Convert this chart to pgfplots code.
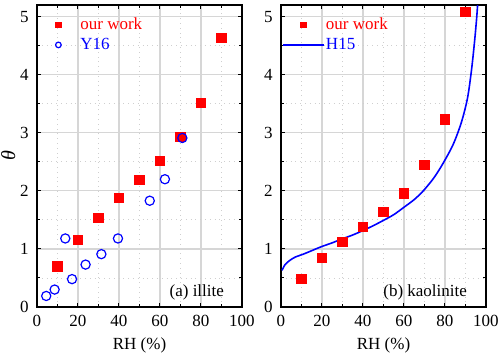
\documentclass[border=0pt]{standalone}
\usepackage{pgfplots}
\pgfplotsset{compat=1.18}
\usepackage{fontspec}
\setmainfont{Liberation Serif}
\definecolor{ourred}{RGB}{255,0,0}
\definecolor{refblue}{RGB}{0,0,255}

\pgfplotsset{
  legimg/.style={legend image code/.code={\path[draw=none, fill=none] (0pt,0pt) (20pt,0pt);
      \draw[mark repeat=2, mark phase=2, mark size=1.4pt, ##1]
      plot coordinates {(0pt,0pt) (10pt,0pt) (20pt,0pt)};}},
  panel/.style={
    scale only axis, width=102.5pt, height=151pt,
    xmin=0, xmax=100, ymin=0, ymax=5.2,
    xtick={0,20,...,100}, ytick={0,1,...,5},
    minor xtick={10,30,...,90}, minor ytick={0.5,1.5,...,4.5},
    tick align=inside, major tick length=2.2pt, minor tick length=1.4pt,
    xtick pos=both, ytick pos=both,
    xticklabel pos=lower, yticklabel pos=left,
    grid=both,
    major grid style={gray!32, line width=0.6pt},
    minor grid style={gray!38, dotted, line width=0.45pt},
    axis line style={line width=0.6pt},
    every tick/.style={black, line width=0.5pt},
    tick label style={font=\fontsize{8.5}{10}\selectfont},
    xticklabel style={yshift=-0.8pt},
    yticklabel style={xshift=-0.6pt},
    /pgf/number format/assume math mode=true,
    xlabel={RH (\%)},
    xlabel style={font=\fontsize{8.5}{10}\selectfont, at={(axis description cs:0.5,-0.126)}, anchor=center},
    legend style={draw=none, fill=none, at={(0,1)}, anchor=north west,
      xshift=0.5pt, yshift=-5pt, inner sep=0pt,
      nodes={inner sep=1pt}, row sep=0.8pt,
      font=\fontsize{8.5}{10}\selectfont},
    legend cell align=left,
  },
}

\begin{document}
\begin{tikzpicture}
\useasboundingbox (-18.5pt,-25.5pt) rectangle (231.5pt,153.5pt);
\begin{axis}[panel, at={(0,0)}, anchor=south west,
  ylabel={\itshape θ},
  ylabel style={font=\fontsize{10}{12}\selectfont, at={(axis description cs:-0.14,0.5)}, anchor=center}]
\addplot[only marks, mark=square*, mark size=2.3pt, color=ourred, legimg] coordinates {
  (10,0.70) (20,1.155) (30,1.53) (40,1.88) (50,2.19) (60,2.52) (70,2.93) (80,3.52) (90,4.64)};
\addplot[only marks, mark=o, mark size=2.3pt, color=refblue, mark options={line width=0.6pt}, legimg] coordinates {
  (4.5,0.19) (8.6,0.30) (13.8,1.18) (17.1,0.48) (23.7,0.73) (31.4,0.91) (39.5,1.18) (55.0,1.83) (62.4,2.20) (70.9,2.91)};
\legend{\textcolor{ourred}{our work}, \textcolor{refblue}{Y16}}
\node[anchor=base east, font=\fontsize{8.5}{10}\selectfont] at (rel axis cs:1,0) [xshift=-5.5pt, yshift=5pt] {(a) illite};
\end{axis}

\begin{axis}[panel, at={(122pt,0)}, anchor=south west]
\addplot[only marks, mark=square*, mark size=2.3pt, color=ourred, legimg] coordinates {
  (10,0.48) (20,0.84) (30,1.12) (40,1.38) (50,1.64) (60,1.955) (70,2.44) (80,3.23) (90,5.08)};
\addplot[color=refblue, line width=0.8pt, smooth, no marks, legimg] coordinates {
  (0.5,0.63) (2,0.73) (4.4,0.805) (7,0.86) (10.9,0.91) (15,0.97) (19.8,1.04) (25,1.105)
  (29.6,1.17) (35,1.24) (40.2,1.32) (45,1.40) (49.9,1.49) (55,1.59) (59.7,1.71) (65,1.85)
  (69.4,2.00) (74.5,2.22) (79,2.47) (84,2.80) (88,3.18) (91,3.60) (93,4.10) (94.5,4.60)
  (95.5,5.00) (96.1,5.30)};
\legend{\textcolor{ourred}{our work}, \textcolor{refblue}{H15}}
\node[anchor=base east, font=\fontsize{8.5}{10}\selectfont] at (rel axis cs:1,0) [xshift=-6pt, yshift=5pt] {(b) kaolinite};
\end{axis}
\end{tikzpicture}
\end{document}
